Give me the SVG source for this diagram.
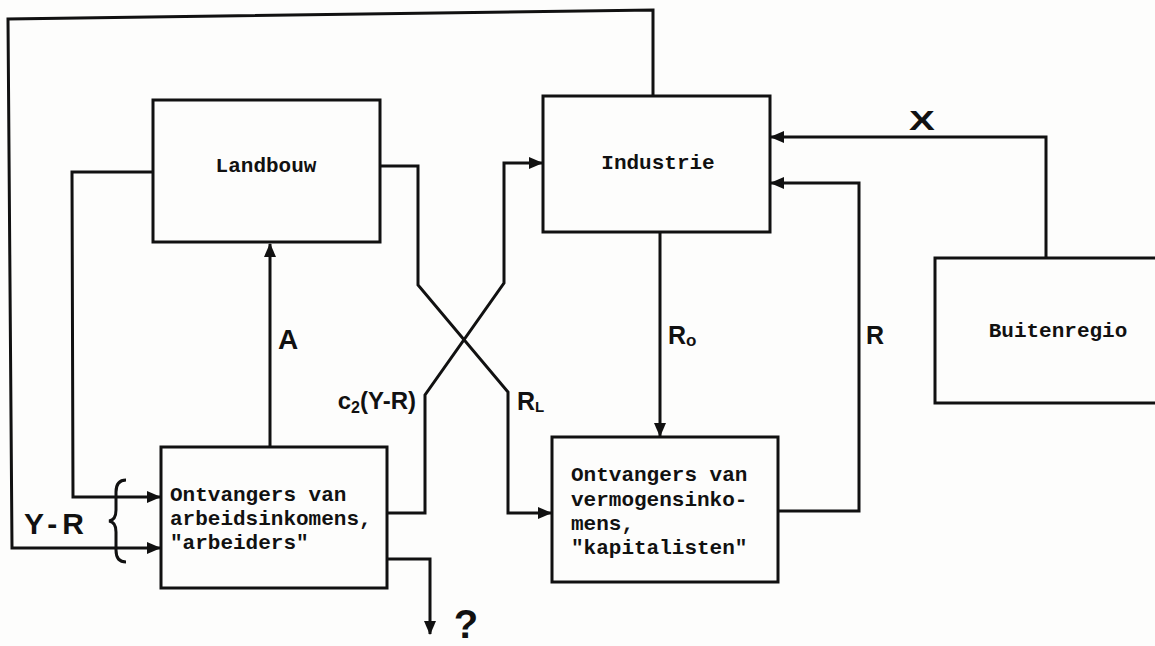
<svg xmlns="http://www.w3.org/2000/svg" width="1155" height="646" viewBox="0 0 1155 646">
<defs>
<marker id="ah" markerWidth="14" markerHeight="12" refX="13" refY="6" orient="auto" markerUnits="userSpaceOnUse">
<path d="M0,0 L14,6 L0,12 Z" fill="#111"/>
</marker>
<style>
.box{fill:none;stroke:#111;stroke-width:3}
.ln{fill:none;stroke:#111;stroke-width:3;stroke-linejoin:miter}
.tw{font-family:"Liberation Mono","DejaVu Sans Mono",monospace;font-size:21px;font-weight:bold;fill:#111}
.lb{font-family:"Liberation Sans","DejaVu Sans",sans-serif;font-weight:bold;fill:#111}
</style>
</defs>
<rect width="1155" height="646" fill="#fdfdfc"/>
<g id="landbouw">
<rect class="box" x="153" y="100" width="227" height="142"/>
<text class="tw" x="266" y="172" text-anchor="middle">Landbouw</text>
</g>
<g id="industrie">
<rect class="box" x="543" y="96" width="227" height="136"/>
<text class="tw" x="658" y="169" text-anchor="middle">Industrie</text>
</g>
<g id="buitenregio">
<rect class="box" x="935" y="258" width="240" height="145"/>
<text class="tw" x="1058" y="337" text-anchor="middle">Buitenregio</text>
</g>
<g id="arbeiders">
<rect class="box" x="161" y="447" width="226" height="141"/>
<text class="tw" x="170" y="501">Ontvangers van</text>
<text class="tw" x="170" y="525">arbeidsinkomens,</text>
<text class="tw" x="170" y="549">"arbeiders"</text>
</g>
<g id="kapitalisten">
<rect class="box" x="552" y="437" width="226" height="145"/>
<text class="tw" x="571" y="481">Ontvangers van</text>
<text class="tw" x="571" y="506">vermogensinko-</text>
<text class="tw" x="571" y="530">mens,</text>
<text class="tw" x="571" y="554">"kapitalisten"</text>
</g>
<g id="connectors">
<path class="ln" d="M653,95 L653,10 L8,19 L12,548 L160,548" marker-end="url(#ah)"/>
<path class="ln" d="M153,172 L72,172 L73,497 L160,497" marker-end="url(#ah)"/>
<path class="ln" d="M270,447 L270,244" marker-end="url(#ah)"/>
<path class="ln" d="M380,166 L418,166 L418,285 L508,392 L508,513 L551,513" marker-end="url(#ah)"/>
<path class="ln" d="M387,513 L425,513 L425,395 L504,283 L504,163 L542,163" marker-end="url(#ah)"/>
<path class="ln" d="M660,232 L660,436" marker-end="url(#ah)"/>
<path class="ln" d="M778,511 L859,511 L859,183 L771,183" marker-end="url(#ah)"/>
<path class="ln" d="M1046,258 L1046,137 L771,137" marker-end="url(#ah)"/>
<path class="ln" d="M387,559 L430,559 L430,634" marker-end="url(#ah)"/>
<path class="ln" d="M126,480 Q116,480 116,492 L116,510 Q116,520 109,521 Q116,522 116,532 L116,550 Q116,562 126,562" stroke-width="2.5"/>
</g>
<g id="labels">
<text class="lb" x="278" y="349" font-size="28">A</text>
<text class="lb" x="416" y="409" font-size="24" text-anchor="end">c<tspan font-size="16" dy="4">2</tspan><tspan dy="-4">(Y-R)</tspan></text>
<text class="lb" x="517" y="410" font-size="25">R<tspan font-size="15" dy="2">L</tspan></text>
<text class="lb" x="668" y="344" font-size="25">R<tspan font-size="17" dy="2">o</tspan></text>
<text class="lb" x="866" y="344" font-size="25">R</text>
<text class="lb" x="922" y="130" font-size="31" text-anchor="middle" transform="translate(922,130) scale(1.25,0.9) translate(-922,-130)">X</text>
<text class="lb" x="24" y="534" font-size="30" letter-spacing="5">Y-R</text>
<text class="lb" x="466" y="638" font-size="40" text-anchor="middle">?</text>
</g>
</svg>
